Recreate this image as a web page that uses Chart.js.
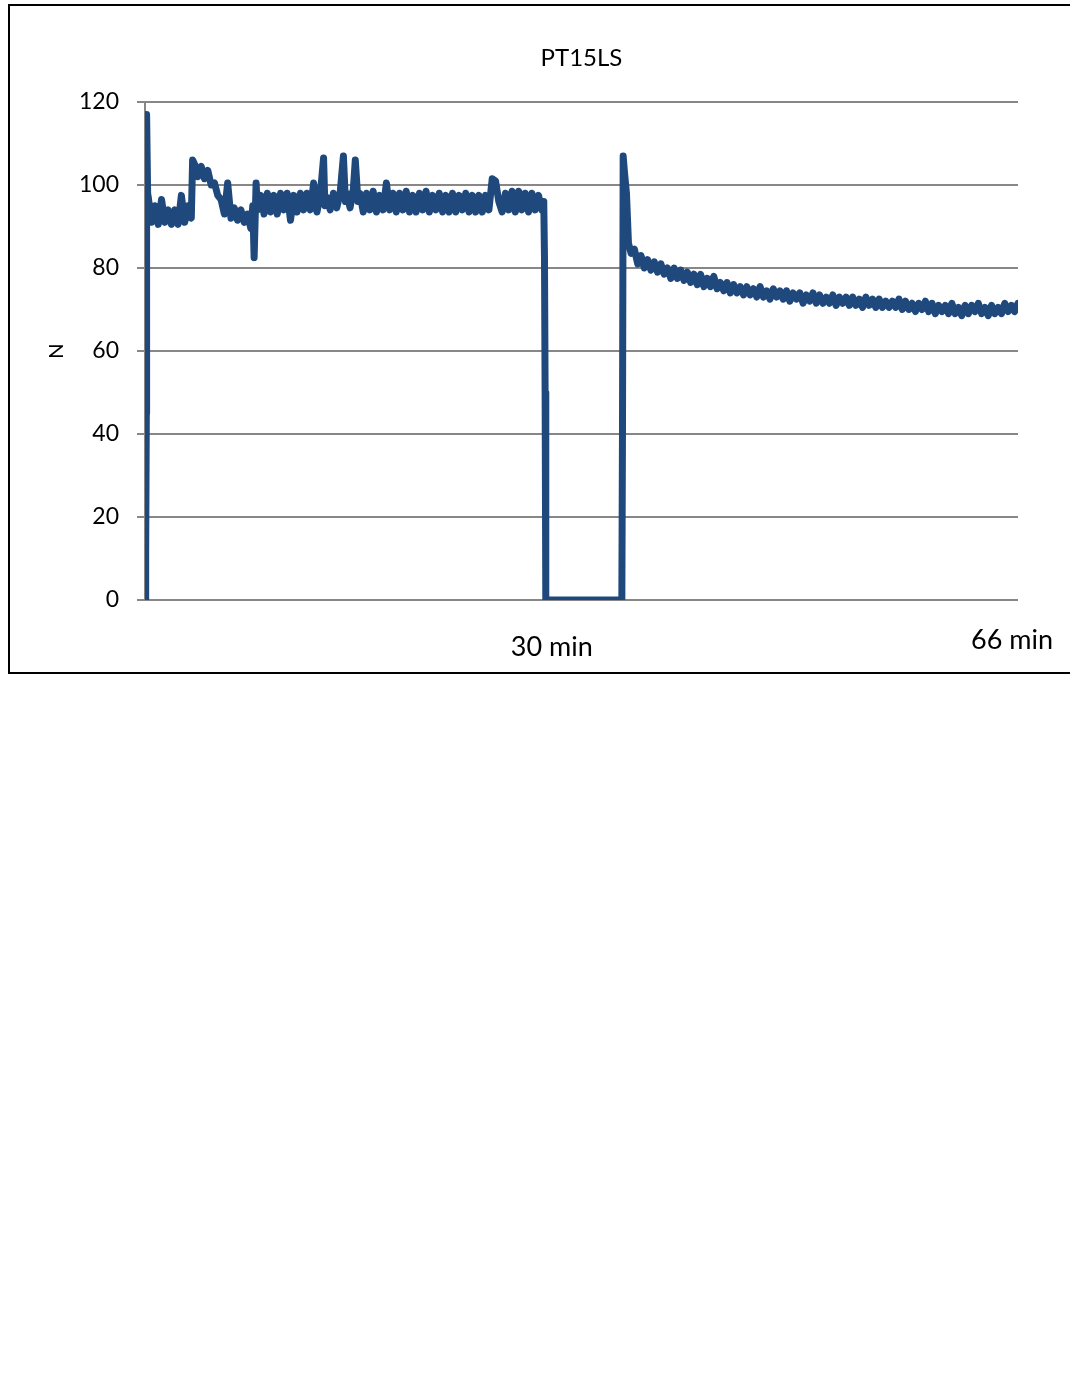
<!DOCTYPE html>
<html>
<head>
<meta charset="utf-8">
<title>PT15LS</title>
<script src="https://cdn.jsdelivr.net/npm/chart.js@4.4.1/dist/chart.umd.min.js"></script>
<style>
  body { margin: 0; background: #fff; overflow: hidden; width: 1070px; height: 1388px; position: relative; }
  #frame { position: absolute; left: 8px; top: 4px; width: 1100px; height: 666px; border: 2px solid #000; }
  #chart { position: absolute; left: 0; top: 0; }
</style>
</head>
<body>
<div id="frame"></div>
<canvas id="chart" width="1070" height="680"></canvas>
<script>
// sample times (min) and force readings (N)
const minutes = [
  0, 0.05, 0.1, 0.12, 0.2,
  0.25, 0.5, 0.75, 1, 1.25, 1.5, 1.75, 2, 2.25, 2.5, 2.75, 3, 3.25, 3.5,
  3.6, 3.75, 4, 4.25, 4.5, 4.75, 5, 5.25, 5.5, 5.75, 6,
  6.25, 6.5, 6.75, 7, 7.25, 7.5, 7.75, 8,
  8.15, 8.25, 8.4,
  8.5, 8.75, 9, 9.25, 9.5, 9.75, 10, 10.25, 10.5, 10.75,
  11, 11.25, 11.5, 11.75, 12, 12.25, 12.5, 12.75, 13, 13.25,
  13.5, 13.6,
  13.75, 14, 14.25, 14.5, 14.75,
  15, 15.15, 15.25, 15.5, 15.75, 15.9, 16.1,
  16.25, 16.5, 16.75, 17, 17.25, 17.5, 17.75, 18, 18.25, 18.5,
  18.75, 19, 19.25, 19.5, 19.75, 20, 20.25, 20.5, 20.75, 21,
  21.25, 21.5, 21.75, 22, 22.25, 22.5, 22.75, 23, 23.25, 23.5,
  23.75, 24, 24.25, 24.5, 24.75, 25, 25.25, 25.5, 25.75, 26,
  26.25, 26.5, 26.75, 27, 27.25, 27.5, 27.75, 28,
  28.25, 28.5, 28.75, 29, 29.25, 29.5, 29.75, 30,
  30.1, 30.15, 30.2, 30.25, 30.3,
  36.05,
  36.1, 36.15, 36.25, 36.4, 36.55, 36.75,
  37, 37.25, 37.5, 37.75,
  38, 38.25, 38.5, 38.75,
  39, 39.25, 39.5, 39.75,
  40, 40.25, 40.5, 40.75,
  41, 41.25, 41.5, 41.75,
  42, 42.25, 42.5, 42.75,
  43, 43.25, 43.5, 43.75,
  44, 44.25, 44.5, 44.75,
  45, 45.25, 45.5, 45.75,
  46, 46.25, 46.5, 46.75,
  47, 47.25, 47.5, 47.75,
  48, 48.25, 48.5, 48.75,
  49, 49.25, 49.5, 49.75,
  50, 50.25, 50.5, 50.75,
  51, 51.25, 51.5, 51.75,
  52, 52.25, 52.5, 52.75,
  53, 53.25, 53.5, 53.75,
  54, 54.25, 54.5, 54.75,
  55, 55.25, 55.5, 55.75,
  56, 56.25, 56.5, 56.75,
  57, 57.25, 57.5, 57.75,
  58, 58.25, 58.5, 58.75,
  59, 59.25, 59.5, 59.75,
  60, 60.25, 60.5, 60.75,
  61, 61.25, 61.5, 61.75,
  62, 62.25, 62.5, 62.75,
  63, 63.25, 63.5, 63.75,
  64, 64.25, 64.5, 64.75,
  65, 65.25, 65.5, 65.75,
  66
];

const newtons = [
  0, 11, 45, 117, 98,
  97, 91, 95, 90.5, 96.5, 91, 94, 90.5, 94, 90.5, 97.5, 91, 95, 92,
  106, 105, 102, 104.5, 101.5, 103.5, 100, 100.5, 97.5, 96.5, 93,
  100.5, 92, 94.5, 91.5, 94, 91, 93, 89.5,
  95, 82.5, 100.5,
  94, 97.5, 93, 98, 93.5, 97.5, 93, 98, 94, 98,
  91.5, 97.5, 93.5, 98, 94, 98, 94, 100.5, 93.5, 97.5,
  106.5, 95,
  97, 94, 98, 94.5, 98,
  107, 96, 98, 94.5, 99, 106, 96,
  98, 93.5, 98, 94, 98.5, 93.5, 97.5, 94, 100.5, 94,
  98, 93.5, 98, 94, 98.5, 93.5, 97.5, 93.5, 98, 94,
  98.5, 93.5, 97.5, 94, 98, 93.5, 97.5, 93.5, 98, 93.5,
  97.5, 94, 98, 93.5, 97.5, 93.5, 97.5, 93.5, 97.5, 94,
  101.5, 101, 96, 93.5, 98, 94, 98.5, 93.5,
  98.5, 94, 98, 93.5, 98, 94, 97.5, 94,
  96, 95, 83, 50, 0,
  0,
  42, 107, 103, 98, 86, 83.5,
  84.5, 81, 83, 80,
  82, 79.5, 81.5, 79,
  81, 78.5, 80, 77.5,
  80, 77.5, 79.5, 77,
  79, 76.5, 78.5, 76,
  78.5, 75.5, 77.5, 75.5,
  78, 75, 76.5, 74.5,
  76.5, 74, 76, 74,
  75.5, 73.5, 75.5, 73.5,
  75, 73, 75.5, 73,
  74.5, 72.5, 75, 73,
  74.5, 72.5, 74.5, 72,
  74, 72.5, 74, 71.5,
  73.5, 72, 74, 71.5,
  73.5, 71.5, 73, 71.5,
  73.5, 71, 73, 71.5,
  73, 71, 73, 71,
  72.5, 70.5, 73, 71,
  72.5, 70.5, 72.5, 70.5,
  72, 70.5, 72, 70.5,
  72.5, 70, 72, 70,
  71.5, 69.5, 71.5, 70,
  72, 69.5, 71.5, 69,
  71, 69.5, 71, 69,
  71.5, 69, 70.5, 68.5,
  71, 69, 71, 69.5,
  71.5, 69, 70.5, 68.5,
  71, 69, 70.5, 69,
  71.5, 69.5, 71, 69.5,
  71.5
];

const yTicks = [0, 20, 40, 60, 80, 100, 120];
const timeMarks = ['30 min', '66 min'];
const timeMarkMinutes = [30.75, 65.55];

const points = minutes.map((t, i) => ({ x: t, y: newtons[i] }));

const fontFamily = 'Lato, "Open Sans", sans-serif';

// time labels under the plot, placed through the x scale
const timeMarkPlugin = {
  id: 'timeMarks',
  afterDraw(chart) {
    const ctx = chart.ctx;
    const xs = chart.scales.x;
    const bottom = chart.chartArea.bottom;
    const drops = [47, 40];
    ctx.save();
    ctx.font = '27px ' + fontFamily;
    ctx.fillStyle = '#000';
    ctx.textAlign = 'center';
    ctx.textBaseline = 'middle';
    timeMarks.forEach((txt, i) => {
      ctx.fillText(txt, xs.getPixelForValue(timeMarkMinutes[i]), bottom + drops[i]);
    });
    ctx.restore();
  }
};

new Chart(document.getElementById('chart'), {
  type: 'line',
  data: {
    datasets: [{
      data: points,
      borderColor: '#1f497d',
      borderWidth: 7,
      borderJoinStyle: 'round',
      borderCapStyle: 'round',
      pointRadius: 0,
      tension: 0,
      fill: false
    }]
  },
  options: {
    responsive: false,
    animation: false,
    devicePixelRatio: 1,
    layout: { padding: { top: 43.5, right: 52, bottom: 80, left: 0 } },
    plugins: {
      legend: { display: false },
      tooltip: { enabled: false },
      title: {
        display: true,
        text: 'PT15LS',
        fullSize: false,
        color: '#000',
        font: { family: fontFamily, size: 24, weight: 'normal' },
        padding: { top: 0, bottom: 29.7 }
      }
    },
    scales: {
      x: {
        type: 'linear',
        min: 0,
        max: 66,
        display: false
      },
      y: {
        min: 0,
        max: 120,
        afterBuildTicks: (scale) => { scale.ticks = yTicks.map(v => ({ value: v })); },
        afterFit: (scale) => { scale.width = 145; },
        ticks: {
          color: '#000',
          padding: 18,
          font: { family: fontFamily, size: 23 }
        },
        grid: { color: '#878787', lineWidth: 2, tickLength: 8 },
        border: { color: '#878787', width: 2 },
        title: {
          display: true,
          text: 'N',
          color: '#000',
          font: { family: fontFamily, size: 20 },
          padding: { top: 45, bottom: 0 }
        }
      }
    }
  },
  plugins: [timeMarkPlugin]
});
</script>
</body>
</html>
